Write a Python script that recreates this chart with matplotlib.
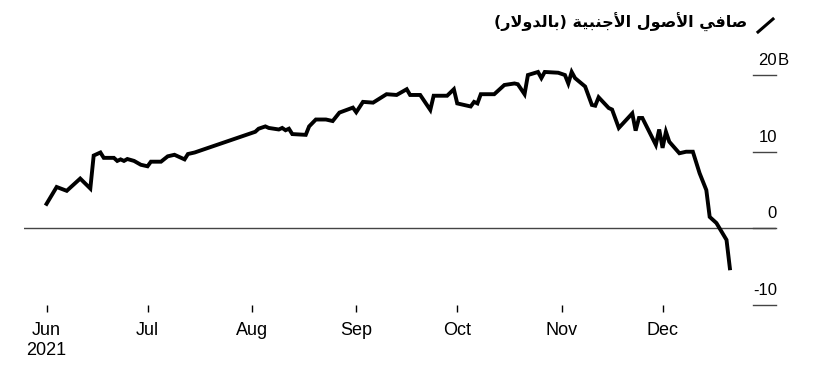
import datetime as dt
import matplotlib
matplotlib.use("Agg")
import matplotlib.pyplot as plt
import matplotlib.dates as mdates
from matplotlib.lines import Line2D
from matplotlib.transforms import offset_copy

plt.rcParams['font.family'] = ['Liberation Sans', 'DejaVu Sans']

# days since 1 Jun 2021, and net foreign assets in billions of dollars
start_day = dt.date(2021, 6, 1)
day_offsets = [0, 3, 6, 10, 13, 14, 16, 17, 20, 21, 22, 23, 24, 26, 28, 30, 31, 34, 36, 38,
               41, 42, 44, 62, 63, 65, 66, 69, 70, 71, 72, 73, 77, 78, 80, 83, 85, 87, 91, 92,
               94, 97, 101, 104, 107, 108, 111, 114, 115, 119, 121, 122, 126, 127, 128, 129, 133, 136, 139, 140,
               142, 143, 146, 147, 148, 152, 154, 155, 156, 157, 160, 162, 163, 164, 167, 168, 170, 174, 175, 176,
               177, 181, 182, 183, 184, 185, 188, 190, 192, 194, 196, 197, 199, 202, 203]
net_assets = [3.2, 5.4, 4.9, 6.5, 5.2, 9.5, 9.9, 9.2, 9.2, 8.8, 9.0, 8.8, 9.05, 8.8, 8.3, 8.1, 8.7, 8.7, 9.4, 9.6,
              9.0, 9.7, 9.9, 12.6, 13.0, 13.3, 13.1, 12.9, 13.1, 12.8, 13.0, 12.3, 12.2, 13.3, 14.2, 14.2, 14.0, 15.1, 15.75, 15.15,
              16.5, 16.4, 17.5, 17.4, 18.15, 17.4, 17.4, 15.45, 17.3, 17.3, 18.15, 16.3, 15.9, 16.5, 16.3, 17.5, 17.5, 18.7, 18.9, 18.8,
              17.5, 20.0, 20.4, 19.6, 20.4, 20.3, 20.0, 18.9, 20.4, 19.6, 18.5, 16.1, 16.0, 17.1, 15.7, 15.5, 13.1, 15.0, 12.75, 14.4,
              14.4, 10.9, 12.9, 10.5, 12.6, 11.3, 9.8, 10.0, 10.0, 7.2, 5.0, 1.5, 0.7, -1.5, -5.2]

y_ticks = [20, 10, 0, -10]
y_labels = ["20", "10", "0", "-10"]
month_starts = [dt.date(2021, m, 1) for m in range(6, 13)]
month_labels = ["Jun\n2021", "Jul", "Aug", "Sep", "Oct", "Nov", "Dec"]

# title in Arabic, written in presentation forms, visual order (matplotlib has no shaping)
title_text = ("(\uFEAD\uFEFB\uFEED\uFEAA\uFEDF\uFE8E\uFE91) "
              "\uFE94\uFEF4\uFE92\uFEE8\uFE9F\uFEF7\uFE8D "
              "\uFEDD\uFEEE\uFEBB\uFEF7\uFE8D "
              "\uFEF2\uFED3\uFE8E\uFEBB")

dates = [start_day + dt.timedelta(days=d) for d in day_offsets]

W, H = 815, 369
fig = plt.figure(figsize=(W / 100, H / 100), dpi=100)
ax = fig.add_axes([24 / W, (H - 305.4) / H, 752 / W, (305.4 - 60) / H])

ax.plot(dates, net_assets, color='black', lw=2.8, solid_joinstyle='miter', zorder=3)

x0 = mdates.date2num(start_day)
ax.set_xlim(x0 - 6.7, x0 + 216.7)
ax.set_ylim(-10.04, 21.96)

# zero line across, short grid stubs on the right
ax.axhline(0, color='#444444', lw=1, zorder=2)
for v in y_ticks:
    ax.axhline(v, xmin=(753 - 24) / 752, xmax=1, color='#444444', lw=1, clip_on=False)

tr = offset_copy(ax.get_yaxis_transform(), fig=fig, x=0, y=7, units='dots')
for v, lab in zip(y_ticks, y_labels):
    ax.text(1.0013, v, lab, transform=tr, ha='right', va='bottom', fontsize=12, color='black')
tr_b = offset_copy(ax.get_yaxis_transform(), fig=fig, x=0.5, y=7, units='dots')
ax.text(1.0013, y_ticks[0], "B", transform=tr_b, ha='left', va='bottom', fontsize=12, color='black')

ax.set_yticks([])
ax.set_xticks(month_starts)
ax.set_xticklabels(month_labels, fontsize=13)
ax.tick_params(axis='x', direction='out', length=5, width=1, color='black', pad=7)
for s in ax.spines.values():
    s.set_visible(False)

fig.text(747 / W, 1 - 22 / H, title_text, ha='right', va='center', fontsize=11.5,
         fontweight='bold', family=['DejaVu Sans'])
fig.add_artist(Line2D([758 / W, 773 / W], [1 - 32 / H, 1 - 19 / H], color='black', lw=2.2,
                      transform=fig.transFigure))

fig.savefig("out.png", dpi=100)
